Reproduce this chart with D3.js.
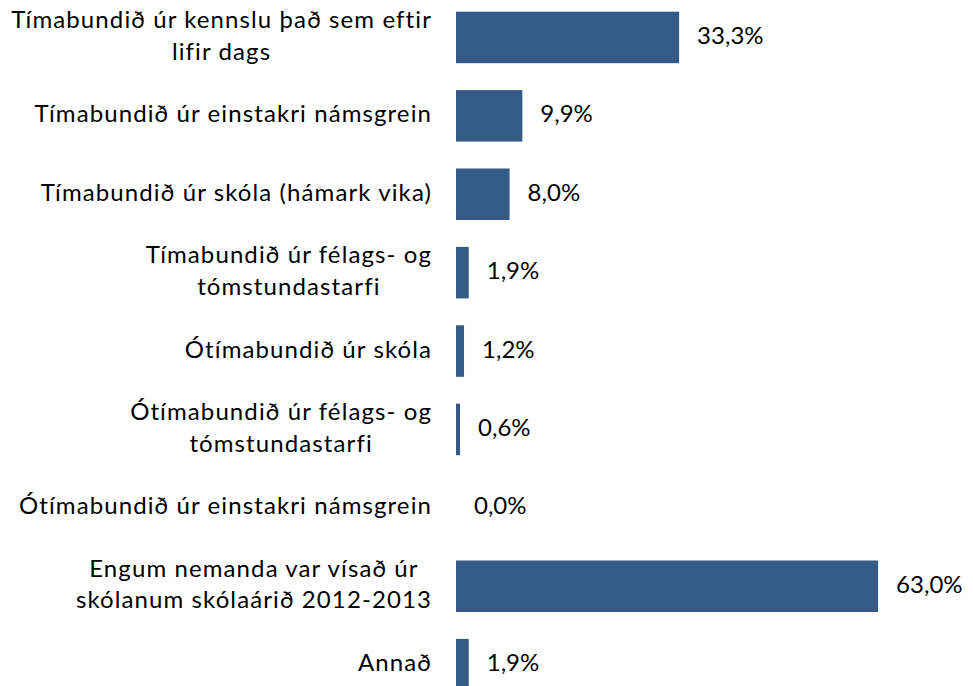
<!DOCTYPE html>
<html>
<head>
<meta charset="utf-8">
<script src="https://cdn.jsdelivr.net/npm/d3@7"></script>
<style>
  body { margin: 0; background: #fff; }
  svg text { font-family: Lato, "Open Sans", sans-serif; fill: #000; font-variant-ligatures: none; }
</style>
</head>
<body>
<div id="chart"></div>
<script>

// categories (each entry is a list of wrapped lines)
var categories = [
    ["Tímabundið úr kennslu það sem eftir", "lifir dags"],
    ["Tímabundið úr einstakri námsgrein"],
    ["Tímabundið úr skóla (hámark vika)"],
    ["Tímabundið úr félags- og", "tómstundastarfi"],
    ["Ótímabundið úr skóla"],
    ["Ótímabundið úr félags- og", "tómstundastarfi"],
    ["Ótímabundið úr einstakri námsgrein"],
    ["Engum nemanda var vísað úr", "skólanum skólaárið 2012-2013"],
    ["Annað"]
];

// percent values
var values = [33.3, 9.9, 8.0, 1.9, 1.2, 0.6, 0.0, 63.0, 1.9];

var width = 973,
    height = 686;

var fontSize = 24,
    lineGap = 31.5;

var locale = d3.formatLocale({decimal: ",", thousands: ".", grouping: [3], currency: ["", " kr."]});
var fmt = locale.format(".1f");

var data = categories.map(function(c, i) {
    return {key: "c" + i, lines: c, value: values[i]};
});

var x = d3.scaleLinear()
    .domain([0, 70])
    .range([456, 925]);

var y = d3.scaleBand()
    .domain(data.map(function(d) { return d.key; }))
    .range([-1.75, 703.85])
    .paddingInner(0.343)
    .paddingOuter(0.1715);

var svg = d3.select("#chart").append("svg")
    .attr("width", width)
    .attr("height", height);

// bars
svg.selectAll("rect.bar")
    .data(data)
    .enter().append("rect")
    .attr("class", "bar")
    .attr("x", x(0))
    .attr("y", function(d) { return y(d.key); })
    .attr("width", function(d) { return x(d.value) - x(0); })
    .attr("height", y.bandwidth())
    .attr("fill", "#355a86");

// value labels
svg.selectAll("text.value")
    .data(data)
    .enter().append("text")
    .attr("class", "value")
    .attr("x", function(d) { return x(d.value) + 18; })
    .attr("y", function(d) { return y(d.key) + y.bandwidth() / 2; })
    .attr("dy", "0.27em")
    .style("font-size", fontSize + "px")
    .text(function(d) { return fmt(d.value) + "%"; });

// category labels, lines centred on each other, block right-aligned
var labelRight = 432;

var labels = svg.selectAll("text.cat")
    .data(data)
    .enter().append("text")
    .attr("class", "cat")
    .attr("text-anchor", "middle")
    .style("font-size", fontSize + "px")
    .style("letter-spacing", "1.1px");

labels.each(function(d) {
    var t = d3.select(this);
    var mid = y(d.key) + y.bandwidth() / 2;
    var n = d.lines.length;
    d.lines.forEach(function(line, j) {
        t.append("tspan")
            .attr("y", mid + (j - (n - 1) / 2) * lineGap)
            .attr("dy", "0.27em")
            .text(line);
    });
    var maxW = 0;
    t.selectAll("tspan").each(function() {
        maxW = Math.max(maxW, this.getComputedTextLength());
    });
    t.selectAll("tspan").attr("x", labelRight - maxW / 2);
});

</script>
</body>
</html>
